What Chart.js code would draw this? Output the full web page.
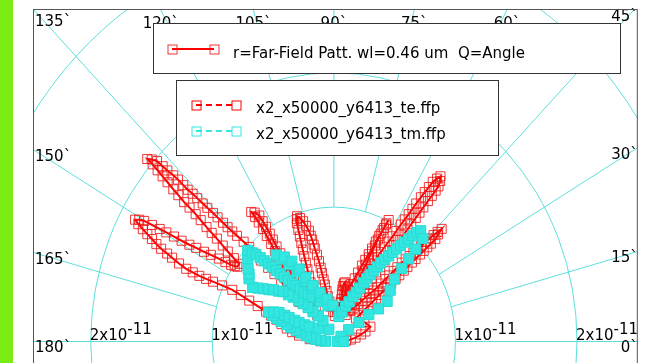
<!DOCTYPE html>
<html>
<head>
<meta charset="utf-8">
<script src="https://cdn.jsdelivr.net/npm/chart.js@4.4.0/dist/chart.umd.min.js"></script>
<style>
  html, body { margin: 0; padding: 0; background: #fff; overflow: hidden; }
  #ffp { position: absolute; left: 0; top: 0; }
  #edge { position: absolute; left: 0; top: 0; width: 13px; height: 363px; background: #7aec12; }
</style>
</head>
<body>
<canvas id="ffp" width="646" height="390"></canvas>
<div id="edge"></div>
<script>
// far-field samples: angle in degrees, radius in units of 1e-11
const teAngle = [
  179, 175, 171.3, 168.5, 166, 163.3, 161, 159.5, 158.3, 157.2, 156.4, 155.7, 155.3, 155.6, 155.9,
  156.1, 156.2, 156.1, 156, 155.5, 154.9, 154.5, 154.1, 153.6, 153, 152.5, 152, 151.5, 151,
  150.5, 150.1, 149.9, 149.7, 149.5, 149.3, 149.1, 148.8, 148.4, 148, 147.5, 146.9, 146.5, 146, 145.5, 145, 143.4,
  143, 142.5, 142, 141.5, 141.2, 140.9, 140.5, 140.2, 140, 139.9, 139.6, 139.4, 139.1, 138.9, 138.7, 138.5, 138.5,
  137.9, 137.3, 137.2, 137.1, 136.9, 136.8, 136.8, 136.8, 136.6, 136.5, 136.4, 136.3, 136.1, 136, 135.9, 135.8, 135.6, 135.4, 135, 134.7,
  134.8, 134.9, 134.6, 134.3, 134.4, 134.4, 134.2, 134.1,
  131.5, 129.2, 128.2, 127.4, 126.8, 126.3, 125.8, 125.4, 125.1, 124.8, 124.9, 125, 125.2, 124.2, 123.2, 123.2,
  123.2, 123.3, 123.5, 123.7, 123.9, 124.1, 124.4, 124.7, 125.1, 125.6, 126.1, 126.6, 127.2, 126, 124.8,
  121, 117.8, 116.2, 114.6, 113.6, 112.7, 112.1, 111.5, 111, 110.5, 110.1, 109.7, 109.4, 109.1, 108.5, 108, 106.9, 105.8,
  104.9, 104, 103.6, 103.3, 103, 102.8, 102.2, 101.6, 101.2, 100.9, 100.4, 99.9, 99.2, 98.4, 97, 95.5, 91.5, 87.5,
  83, 78.5, 79, 79.5, 79.7, 79.9, 79.2, 78.4, 77, 75.5, 73.8, 72.1, 70.3, 68.6,
  68, 67.3, 66.8, 66.3, 66, 65.7, 65.4, 65.2, 64.9, 64.7, 64.5, 64.3, 64, 63.8, 63.5,
  63.8, 64.2, 64.6, 65.1, 65.6, 66.2, 67, 67.8, 68.8, 70, 71.6, 73.4, 76, 79.1, 81.5, 83.6,
  78, 73.1, 70, 67.6, 65.8, 64.3, 63.1, 62.1, 61.2, 60.5, 59.9, 59.3, 58.8, 58.3, 58, 57.7, 57.3, 57, 56.8, 56.6,
  56.3, 56.1, 55.8, 55.6, 55, 54.5, 53.8, 53.3, 53.3, 53.4, 53.5, 53.6, 53.7, 53.8, 53.9, 54,
  54.2, 54.4, 54.6, 54.8, 55, 55.3, 55.6, 56, 56.5, 57, 57.7, 58.5, 59.7, 61, 62.4, 63.9,
  60, 56.9, 54.8, 52.9, 51.5, 50.3, 49.3, 48.4, 48, 47.6, 47.2, 46.9, 46.6, 46.4, 46, 45.6, 45.3, 45, 44.7, 44.5,
  44.2, 44, 43.7, 43.4, 42.9, 42.4, 42.4, 42.4, 42.4, 42.4, 42.4, 42.5, 42.5, 42.5, 42.5,
  42.6, 42.6, 42.6, 42.6, 42.7, 42.8, 42.9, 43, 43.1, 43.2, 43.4,
  30, 20.1, 16, 13.2, 9, 6, 3, 1
];
const teR = [
  0.11, 0.20, 0.29, 0.35, 0.40, 0.45, 0.50, 0.55, 0.60, 0.68, 0.76, 0.84, 0.92, 1.01, 1.09,
  1.15, 1.21, 1.27, 1.33, 1.40, 1.47, 1.52, 1.58, 1.63, 1.68, 1.73, 1.78, 1.83, 1.87,
  1.84, 1.80, 1.73, 1.66, 1.60, 1.53, 1.46, 1.39, 1.33, 1.26, 1.20, 1.13, 1.07, 1.02, 0.99, 0.97, 0.97,
  1.03, 1.10, 1.16, 1.23, 1.29, 1.35, 1.42, 1.48, 1.55, 1.61, 1.68, 1.74, 1.81, 1.87, 1.93, 1.99, 2.05,
  2.02, 1.98, 1.92, 1.87, 1.81, 1.76, 1.70, 1.65, 1.60, 1.55, 1.49, 1.44, 1.38, 1.33, 1.27, 1.22, 1.17, 1.12, 1.05, 0.99,
  0.92, 0.85, 0.77, 0.70, 0.62, 0.55, 0.48, 0.41,
  0.46, 0.51, 0.57, 0.63, 0.70, 0.76, 0.83, 0.89, 0.96, 1.02, 1.08, 1.13, 1.18, 1.16, 1.12, 1.07,
  1.02, 0.96, 0.91, 0.85, 0.79, 0.73, 0.68, 0.62, 0.57, 0.51, 0.46, 0.40, 0.35, 0.30, 0.24,
  0.29, 0.34, 0.38, 0.43, 0.48, 0.53, 0.58, 0.63, 0.68, 0.73, 0.78, 0.83, 0.88, 0.93, 0.96, 0.98, 0.96, 0.93,
  0.89, 0.85, 0.81, 0.78, 0.74, 0.71, 0.66, 0.61, 0.56, 0.52, 0.47, 0.43, 0.38, 0.34, 0.30, 0.26, 0.22, 0.19,
  0.24, 0.29, 0.32, 0.36, 0.39, 0.42, 0.44, 0.45, 0.42, 0.39, 0.35, 0.32, 0.28, 0.25,
  0.30, 0.36, 0.41, 0.47, 0.52, 0.58, 0.63, 0.69, 0.74, 0.79, 0.84, 0.89, 0.94, 0.98, 1.01,
  0.97, 0.92, 0.87, 0.82, 0.76, 0.71, 0.66, 0.61, 0.55, 0.50, 0.45, 0.40, 0.35, 0.30, 0.26, 0.22,
  0.26, 0.31, 0.36, 0.41, 0.46, 0.51, 0.56, 0.61, 0.66, 0.72, 0.77, 0.82, 0.87, 0.92, 0.97, 1.03, 1.08, 1.13, 1.18, 1.23,
  1.29, 1.34, 1.39, 1.44, 1.48, 1.51, 1.48, 1.44, 1.40, 1.35, 1.30, 1.24, 1.19, 1.14, 1.08, 1.03,
  0.98, 0.93, 0.88, 0.83, 0.78, 0.72, 0.67, 0.62, 0.56, 0.51, 0.46, 0.41, 0.36, 0.31, 0.26, 0.22,
  0.26, 0.30, 0.34, 0.38, 0.42, 0.46, 0.50, 0.54, 0.58, 0.63, 0.67, 0.72, 0.76, 0.81, 0.85, 0.89, 0.93, 0.97, 1.01, 1.06,
  1.10, 1.14, 1.18, 1.22, 1.17, 1.13, 1.08, 1.04, 1.00, 0.96, 0.91, 0.87, 0.82, 0.78, 0.73,
  0.69, 0.64, 0.60, 0.55, 0.51, 0.47, 0.43, 0.38, 0.34, 0.29, 0.25,
  0.29, 0.32, 0.27, 0.23, 0.18, 0.14, 0.10, 0.07
];
const tmAngle = [
  2, 178, 176, 174.2, 171.5, 169.2, 167, 165.4, 163.6, 162.2, 161, 160, 159, 158,
  156, 154.5, 154.3, 154.2, 154, 153.8, 152.8, 151.6, 142, 114.7,
  120, 124, 127.8, 130, 132.1, 133.8, 135.3, 137, 138.5, 140.5,
  142.4, 144.2, 145.9, 147.5, 148.9, 146.2, 144.3, 142.5, 138.9, 136.3,
  135.5, 134.8, 134.2, 133.7, 133, 132.4, 131.8, 131.3, 130.4, 129.4,
  128, 126.8, 125.2, 123.6, 121, 118.4, 111.2, 100.4,
  107.8, 113.6, 117.8, 120.3, 122.9, 125.2, 126.4, 123, 120.1, 117.9, 115.9, 112.5, 107.6, 100.1, 91.7,
  77.5, 73, 69.8, 67, 64.9, 63.3, 62, 60.9, 59.9, 59, 58.1, 57.3, 56.6, 55.6, 54.7, 53.9, 53.2,
  52.5, 51.9, 51.2, 50.5, 49.8, 49.1, 46.3, 45.7, 45, 44.2, 43, 39.5, 34.3, 33.5, 34.9, 34.5, 35.9,
  33, 0
];
const tmR = [
  0.03, 0.07, 0.11, 0.15, 0.19, 0.23, 0.28, 0.32, 0.37, 0.41, 0.46, 0.50, 0.54, 0.58,
  0.54, 0.50, 0.45, 0.41, 0.36, 0.32, 0.27, 0.23, 0.16, 0.10,
  0.18, 0.23, 0.28, 0.33, 0.38, 0.42, 0.47, 0.51, 0.56, 0.59,
  0.63, 0.66, 0.70, 0.74, 0.78, 0.84, 0.86, 0.89, 0.94, 0.98,
  0.94, 0.91, 0.87, 0.83, 0.79, 0.75, 0.71, 0.67, 0.63, 0.59,
  0.55, 0.52, 0.48, 0.44, 0.41, 0.38, 0.32, 0.27,
  0.35, 0.43, 0.51, 0.60, 0.68, 0.75, 0.80, 0.75, 0.69, 0.61, 0.53, 0.45, 0.38, 0.32, 0.27,
  0.19, 0.23, 0.28, 0.32, 0.37, 0.41, 0.45, 0.50, 0.54, 0.58, 0.62, 0.66, 0.70, 0.74, 0.78, 0.82, 0.86,
  0.90, 0.94, 0.98, 1.02, 1.06, 1.09, 1.06, 0.96, 0.87, 0.78, 0.68, 0.60, 0.53, 0.44, 0.35, 0.25, 0.15,
  0.07, 0.08
];

const angleTicks = [0, 15, 30, 45, 60, 75, 90, 105, 120, 135, 150, 165, 180];
const radiusRings = [1, 2, 3];
const radiusTickLabels = [1, 2];
const plotTitle = "r=Far-Field Patt. wl=0.46 um  Q=Angle";
const fileNames = ["x2_x50000_y6413_te.ffp", "x2_x50000_y6413_tm.ffp"];

const RED = "#ff0000";
const CYAN = "#33e6df";
const GRID = "#5ddfdc";
const FONT = "15px 'DejaVu Sans'";

const rad = Math.PI / 180;
const polar = (a, r) => ({ x: r * Math.cos(a * rad), y: r * Math.sin(a * rad) });
const toPoints = (angles, radii) => angles.map((a, i) => polar(a, radii[i]));

// polar grid: rings at each radius tick, spokes every 15 deg starting at the first ring
const polarGrid = {
  id: "polarGrid",
  beforeDatasetsDraw(chart) {
    const { ctx, chartArea: area, scales: { x, y } } = chart;
    const cx = x.getPixelForValue(0), cy = y.getPixelForValue(0);
    ctx.save();
    ctx.beginPath();
    ctx.rect(area.left, area.top, area.right - area.left, area.bottom - area.top);
    ctx.clip();
    ctx.strokeStyle = GRID;
    ctx.lineWidth = 1;
    radiusRings.forEach(r => {
      ctx.beginPath();
      ctx.ellipse(cx, cy, x.getPixelForValue(r) - cx, cy - y.getPixelForValue(r), 0, 0, 2 * Math.PI);
      ctx.stroke();
    });
    angleTicks.forEach(a => {
      const p0 = polar(a, radiusRings[0]), p1 = polar(a, 8);
      ctx.beginPath();
      ctx.moveTo(x.getPixelForValue(p0.x), y.getPixelForValue(p0.y));
      ctx.lineTo(x.getPixelForValue(p1.x), y.getPixelForValue(p1.y));
      ctx.stroke();
    });
    ctx.restore();
  }
};

function square(ctx, px, py, color) {
  ctx.strokeStyle = color;
  ctx.lineWidth = 1;
  ctx.strokeRect(px - 4.5, py - 4.5, 9, 9);
}

// frame, angle labels, radius labels and the two key boxes
const decorations = {
  id: "decorations",
  afterDraw(chart) {
    const { ctx, chartArea: area, scales: { x, y } } = chart;
    const cy = y.getPixelForValue(0);
    ctx.save();
    ctx.font = FONT;
    ctx.fillStyle = "#000";
    ctx.textBaseline = "alphabetic";

    // radius tick labels along the 0/180 axis
    ctx.save();
    ctx.beginPath();
    ctx.rect(area.left, area.top, area.right - area.left, area.bottom - area.top);
    ctx.clip();
    radiusTickLabels.forEach(r => {
      [r, -r].forEach(v => {
        const left = x.getPixelForValue(v) - 1;
        ctx.textAlign = "left";
        ctx.fillText(r + "x10", left, cy - 1);
        ctx.fillText("-11", left + ctx.measureText(r + "x10").width, cy - 7);
      });
    });
    ctx.restore();

    // angle labels where each spoke meets the border
    const xmax = x.max, xmin = x.min, ymax = y.max;
    angleTicks.forEach(a => {
      const c = Math.cos(a * rad), s = Math.sin(a * rad);
      const tTop = s > 1e-9 ? ymax / s : Infinity;
      const tSide = Math.abs(c) > 1e-9 ? (c > 0 ? xmax : xmin) / c : Infinity;
      const t = Math.min(tTop, tSide);
      const px = x.getPixelForValue(c * t), py = y.getPixelForValue(s * t);
      const txt = a + "`";
      const w = ctx.measureText(txt).width;
      if (px < area.left + 6) {
        ctx.textAlign = "left";
        ctx.fillText(txt, area.left + 1, Math.max(py + 11, area.top + 16));
      } else if (px > area.right - 6 || (tTop <= tSide && px + w / 2 > area.right)) {
        ctx.textAlign = "right";
        ctx.fillText(txt, area.right, tTop <= tSide ? area.top + 11 : py + 11);
      } else {
        ctx.textAlign = "center";
        ctx.fillText(txt, px, area.top + 18);
      }
    });

    // plot border
    ctx.strokeStyle = "#555";
    ctx.lineWidth = 1;
    ctx.strokeRect(area.left - 0.5, area.top - 0.5, area.right - area.left, area.bottom - area.top + 1);

    // key boxes
    ctx.textAlign = "left";
    ctx.strokeStyle = "#333";
    ctx.fillStyle = "#fff";
    ctx.fillRect(153.5, 23.5, 467, 50);
    ctx.strokeRect(153.5, 23.5, 467, 50);
    ctx.fillRect(176.5, 80.5, 322, 75);
    ctx.strokeRect(176.5, 80.5, 322, 75);

    ctx.strokeStyle = RED;
    ctx.lineWidth = 2;
    ctx.beginPath(); ctx.moveTo(172, 49); ctx.lineTo(214, 49); ctx.stroke();
    square(ctx, 172.5, 49.5, "rgba(235,20,20,0.85)");
    square(ctx, 214.5, 49.5, "rgba(235,20,20,0.85)");
    ctx.fillStyle = "#000";
    ctx.fillText(plotTitle, 233, 58);

    const keyColors = [RED, CYAN];
    chart.data.datasets.forEach((ds, i) => {
      const ky = 105 + i * 26;
      ctx.strokeStyle = keyColors[i];
      ctx.lineWidth = 2;
      ctx.setLineDash([6, 4]);
      ctx.beginPath(); ctx.moveTo(196, ky); ctx.lineTo(236, ky); ctx.stroke();
      ctx.setLineDash([]);
      square(ctx, 196.5, ky + 0.5, keyColors[i]);
      square(ctx, 236.5, ky + 0.5, keyColors[i]);
      ctx.fillStyle = "#000";
      ctx.fillText(ds.label, 256, ky + 8);
    });
    ctx.restore();
  }
};

new Chart(document.getElementById("ffp"), {
  type: "scatter",
  data: {
    datasets: [
      {
        label: fileNames[0],
        data: toPoints(teAngle, teR),
        showLine: true,
        borderColor: RED,
        borderWidth: 2,
        pointStyle: "rect",
        pointRadius: 6.4,
        pointBorderWidth: 1,
        pointBorderColor: "rgba(240,20,20,0.85)",
        pointBackgroundColor: "rgba(0,0,0,0)",
        order: 2
      },
      {
        label: fileNames[1],
        data: toPoints(tmAngle, tmR),
        showLine: true,
        borderColor: CYAN,
        borderWidth: 2,
        borderDash: [5, 3],
        pointStyle: "rect",
        pointRadius: 7.2,
        pointBorderWidth: 1,
        pointBorderColor: "#26dcd5",
        pointBackgroundColor: CYAN,
        order: 1
      }
    ]
  },
  options: {
    responsive: false,
    animation: false,
    devicePixelRatio: 1,
    layout: { padding: { left: 34, top: 10, right: 6, bottom: 6.5 } },
    scales: {
      x: { type: "linear", min: -2.467, max: 2.5, display: false },
      y: { type: "linear", min: -0.3, max: 2.467, display: false }
    },
    plugins: {
      legend: { display: false },
      tooltip: { enabled: false }
    }
  },
  plugins: [polarGrid, decorations]
});
</script>
</body>
</html>
